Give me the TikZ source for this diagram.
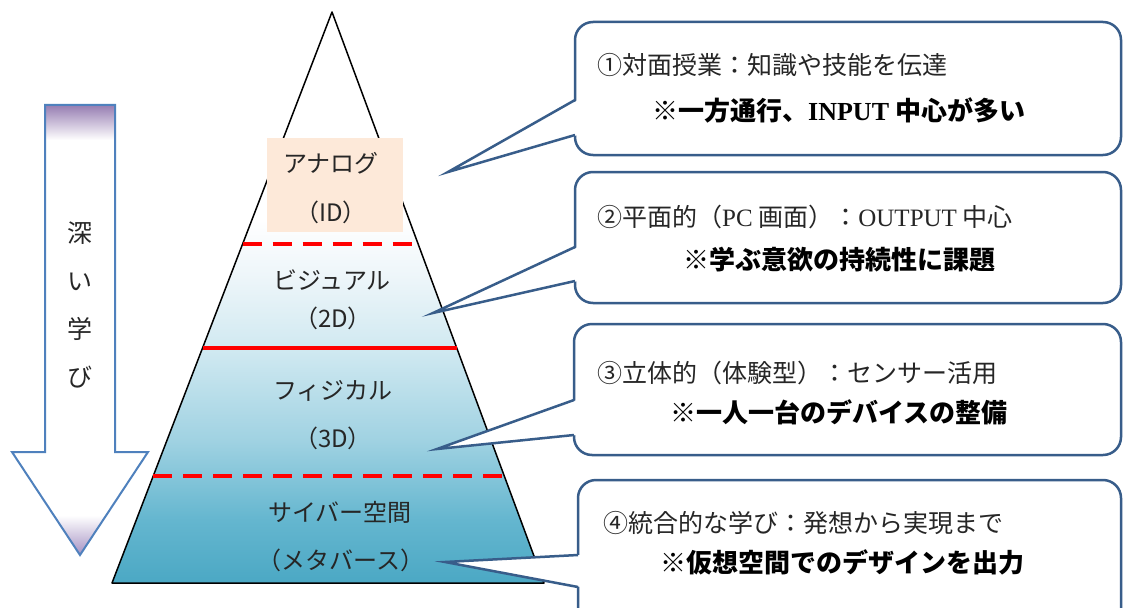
\documentclass[tikz,border=0pt]{standalone}
\usepackage{fontspec}
\setmainfont{Liberation Serif}
\newfontfamily\jp{Noto Sans CJK JP}
\usetikzlibrary{calc}
\definecolor{tb}{RGB}{75,168,196}
\definecolor{tbA}{RGB}{100,182,207}
\definecolor{tbB}{RGB}{160,210,226}
\definecolor{tbC}{RGB}{208,233,241}
\definecolor{tbD}{RGB}{236,245,249}
\definecolor{purT}{RGB}{150,125,178}
\definecolor{purB}{RGB}{165,145,195}
\definecolor{ablue}{RGB}{79,129,189}
\definecolor{cblue}{RGB}{56,93,138}
\definecolor{peach}{RGB}{253,233,217}
\pgfdeclareverticalshading{trishade}{100bp}{color(0bp)=(tb); color(25bp)=(tb); color(30.5bp)=(tbA); color(37.5bp)=(tbB); color(45.4bp)=(tbC); color(51.5bp)=(tbD); color(56.8bp)=(white); color(100bp)=(white)}
\pgfdeclareverticalshading{arrowshade}{100bp}{color(0bp)=(purB); color(25bp)=(purB); color(29.4bp)=(white); color(71.1bp)=(white); color(75bp)=(purT); color(100bp)=(purT)}
\begin{document}
\begin{tikzpicture}[x=1pt,y=-1pt,
  lbl/.style={font=\jp\fontsize{24}{24}\selectfont, text=black!85, inner sep=0pt},
  ctop/.style={font=\jp\fontsize{25}{25}\selectfont, anchor=west, inner sep=0pt, text=black!85},
  cbot/.style={font=\jp\bfseries\fontsize{26}{26}\selectfont, anchor=west, inner sep=0pt},
  cbox/.style={draw=cblue, line width=2.5pt, fill=white, rounded corners=18pt, inner sep=0pt},
  cleg/.style={draw=cblue, line width=2.5pt, line join=miter},
  redsolid/.style={red, line width=3.5pt},
  reddash/.style={red, line width=3.5pt, dash pattern=on 19pt off 11pt}]
\useasboundingbox (0,0) rectangle (1123,607);
\fill[white] (0,0) rectangle (1123,607);

% left arrow
\shadedraw[shading=arrowshade, draw=ablue, line width=2pt, line join=miter]
  (45,105) -- (115,105) -- (115,452) -- (148,452) -- (80,555) -- (12,452) -- (45,452) -- cycle;
\node[font=\jp\fontsize{25}{48.3}\selectfont, align=center, text=black!85, inner sep=0pt] (deep) at (80,305) {深\\い\\学\\び};

% pyramid
\coordinate (apex) at (332,12);
\coordinate (bl) at (112,583);
\coordinate (br) at (544,583);
\foreach \o/\s in {0.10/6, 0.10/4, 0.12/2} {
  \fill[black, opacity=\o, xshift=\s pt, yshift=-\s pt] (apex) -- (br) -- (bl) -- cycle;
}
\shadedraw[shading=trishade, draw=black, line width=1.5pt, line join=round] (apex) -- (br) -- (bl) -- cycle;

\node[fill=peach, minimum width=136pt, minimum height=94pt, inner sep=0pt] (analogbox) at (334.5,185) {};

\draw[reddash] ($(apex)!0.406!(bl)$) -- ($(apex)!0.406!(br)$);
\draw[redsolid] ($(apex)!0.588!(bl)$) -- ($(apex)!0.588!(br)$);
\draw[reddash] ($(apex)!0.813!(bl)$) -- ($(apex)!0.813!(br)$);

\node[lbl] (l1a) at (331,163) {アナログ};
\node[lbl] (l1b) at (331,212) {（ID）};
\node[lbl] (l2a) at (332,280) {ビジュアル};
\node[lbl] (l2b) at (333,318) {（2D）};
\node[lbl] (l3a) at (333,391) {フィジカル};
\node[lbl] (l3b) at (333,438) {（3D）};
\node[lbl] (l4a) at (340,512) {サイバー空間};
\node[lbl] (l4b) at (341,560) {（メタバース）};

% callouts: boxes
\node[cbox, minimum width=546pt, minimum height=133pt] (box1) at (848,88.5) {};
\node[cbox, minimum width=546pt, minimum height=131pt] (box2) at (848,237.5) {};
\node[cbox, minimum width=547pt, minimum height=131pt] (box3) at (847.5,389.5) {};
\node[cbox, minimum width=543pt, minimum height=180pt] (box4) at (849.5,570) {};

% callouts: pointers
\coordinate (tip1) at (448,172);
\coordinate (tip2) at (433,313);
\coordinate (tip3) at (437,449);
\coordinate (tip4) at (445,562);
\coordinate (b1u) at (575,100); \coordinate (b1d) at (575,135);
\coordinate (b2u) at (575,247); \coordinate (b2d) at (575,281);
\coordinate (b3u) at (574,400); \coordinate (b3d) at (574,435);
\coordinate (b4u) at (578,555); \coordinate (b4d) at (578,587);
\foreach \t/\u/\d in {tip1/b1u/b1d, tip2/b2u/b2d, tip3/b3u/b3d, tip4/b4u/b4d} {
  \fill[white] ($(\u)+(3,0)$) -- (\t) -- ($(\d)+(3,0)$) -- cycle;
  \draw[cleg] (\u) -- (\t) -- (\d);
}

\node[ctop] (c1a) at (597,65) {①対面授業：知識や技能を伝達};
\node[cbot] (c1b) at (652,110) {※一方通行、{\rmfamily INPUT} 中心が多い};
\node[ctop] (c2a) at (597,217) {②平面的（{\rmfamily PC} 画面）：{\rmfamily OUTPUT} 中心};
\node[cbot] (c2b) at (683,260) {※学ぶ意欲の持続性に課題};
\node[ctop] (c3a) at (597,373) {③立体的（体験型）：センサー活用};
\node[cbot] (c3b) at (670,412) {※一人一台のデバイスの整備};
\node[ctop] (c4a) at (603,523) {④統合的な学び：発想から実現まで};
\node[cbot] (c4b) at (660,562) {※仮想空間でのデザインを出力};
\end{tikzpicture}
\end{document}
